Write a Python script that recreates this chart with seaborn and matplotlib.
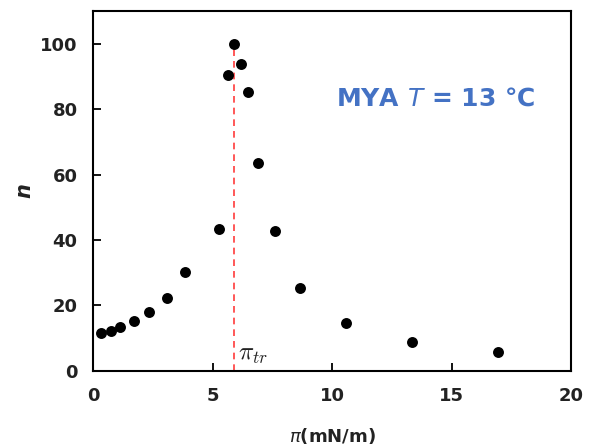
import pandas as pd
import seaborn as sns
import matplotlib.pyplot as plt

# surface pressure (mN/m) and n
pi_vals = [0.32, 0.74, 1.15, 1.73, 2.35, 3.08, 3.85, 5.28, 5.65, 5.88,
           6.19, 6.48, 6.91, 7.62, 8.65, 10.57, 13.34, 16.94]
n_vals = [11.6, 12.2, 13.4, 15.1, 17.9, 22.1, 30.2, 43.2, 90.5, 100.0,
          93.7, 85.2, 63.4, 42.8, 25.3, 14.7, 8.7, 5.8]
pi_tr = 5.88
x_ticks = [0, 5, 10, 15, 20]
y_ticks = [0, 20, 40, 60, 80, 100]

df = pd.DataFrame({"pi": pi_vals, "n": n_vals})

sns.set_theme(style="ticks")
plt.rcParams['font.family'] = ['DejaVu Sans']

fig = plt.figure(figsize=(5.92, 4.46), dpi=100)
ax = fig.add_axes([0.157, 0.169, 0.808, 0.806])

sns.scatterplot(data=df, x="pi", y="n", ax=ax, color="black", s=62,
                edgecolor="black", linewidth=0, zorder=3)

# transition pressure marker
ax.plot([pi_tr, pi_tr], [0, 100], color="#ff3b3b", linestyle=(0, (4, 3)), lw=1.2, zorder=2)
ax.text(pi_tr + 0.2, 3.2, r"$\pi_{tr}$", fontsize=18, color="#222222",
        math_fontfamily="cm")

ax.text(14.3, 81, "MYA $\\mathit{T}$ = 13 ℃", fontsize=18, fontweight="bold",
        color="#4472c4", ha="center", va="baseline")

ax.set_xlim(0, 20)
ax.set_ylim(0, 110)
ax.set_xticks(x_ticks)
ax.set_yticks(y_ticks)
ax.tick_params(which="major", direction="in", length=6, width=1.3,
               color="black", bottom=True, left=True, top=False, right=False,
               labelsize=13, labelcolor="#222222")
ax.tick_params(axis="y", pad=11)
ax.tick_params(axis="x", pad=12)
for lab in ax.get_xticklabels() + ax.get_yticklabels():
    lab.set_fontweight("bold")

for sp in ax.spines.values():
    sp.set_visible(True)
    sp.set_color("black")
    sp.set_linewidth(1.5)

ax.set_xlabel(r"$\pi$(mN/m)", fontsize=13, fontweight="bold", color="#222222",
              labelpad=15)
ax.set_ylabel("n", fontsize=15, fontstyle="italic", fontweight="bold",
              color="#222222", labelpad=4)

fig.savefig("out.png", dpi=100)
